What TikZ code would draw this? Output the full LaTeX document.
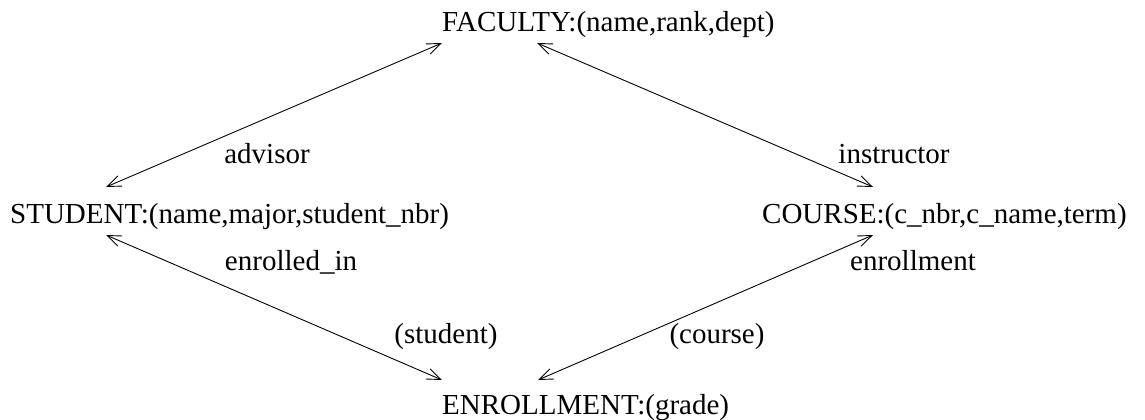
\documentclass[tikz,border=0pt]{standalone}
\usepackage{fontspec}
\setmainfont{Liberation Serif}
\usetikzlibrary{arrows.meta}
\tikzstyle{every node}=[inner sep=0pt,font=\fontsize{29}{34}\selectfont]
\tikzstyle{entity}=[anchor=base west]
\tikzstyle{role}=[anchor=base]
\tikzstyle{link}=[line width=0.9pt,{Straight Barb[length=14pt,width=11pt]}-{Straight Barb[length=14pt,width=11pt]}]

\begin{document}
\begin{tikzpicture}[x=1pt,y=-1pt]
\useasboundingbox (0,0) rectangle (1145,420);
\node[entity] (fac) at (442,32) {FACULTY:(name,rank,dept)};
\node[entity] (stud) at (10,223) {STUDENT:(name,major,student\_nbr)};
\node[entity] (crs) at (762,223) {COURSE:(c\_nbr,c\_name,term)};
\node[entity] (enr) at (442,414) {ENROLLMENT:(grade)};
\node[role] (adv) at (267,163) {advisor};
\node[role] (ins) at (894,163) {instructor};
\node[role] (enrin) at (291,270) {enrolled\_in};
\node[role] (enrmt) at (913,270) {enrollment};
\node[role] (rstud) at (446,343) {(student)};
\node[role] (rcrs) at (717,343) {(course)};
\draw[link] ([shift={(96,-36)}]stud.base west) -- ([shift={(0,11)}]fac.base west);
\draw[link] ([shift={(95,11)}]fac.base west) -- ([shift={(111,-36)}]crs.base west);
\draw[link] ([shift={(96,12)}]stud.base west) -- ([shift={(0,-34)}]enr.base west);
\draw[link] ([shift={(96,-34)}]enr.base west) -- ([shift={(111,12)}]crs.base west);
\end{tikzpicture}
\end{document}
